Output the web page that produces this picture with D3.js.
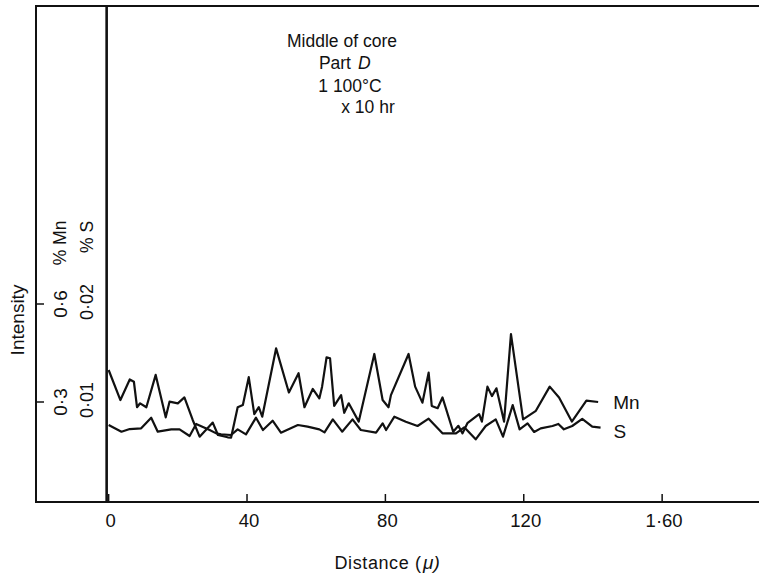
<!DOCTYPE html>
<html lang="en">
<head>
  <meta charset="UTF-8" />
  <title>Middle of core, Part D</title>
  <script src="https://d3js.org/d3.v7.min.js"></script>
  <style>
    body {
      margin: 0;
      background: #fff;
    }
    svg text {
      font-family: "Liberation Sans", Arial, sans-serif;
      fill: #111;
    }
  </style>
</head>
<body>
  <svg id="chart" width="759" height="583"></svg>

  <script>
    // Distance (μ) and intensity readings
    const mnDistance = [0, 3.4, 6.1, 7.3, 8.2, 9.1, 10.9, 13.6, 16.5, 17.6, 20, 21.9, 24.3, 26.3, 30.1, 31.6, 34.4, 35.4,
      37.3, 38.8, 40.5, 42.1, 43.4, 44.4, 48.4, 52.1, 54.9, 56.6, 59, 60.9, 61.7, 63, 64, 65.2, 67.2, 68.1, 69.4, 72.3,
      76.8, 79.2, 80.9, 81.6, 86.7, 88.6, 90.7, 92.5, 93.4, 95.1, 96.5, 99.6, 101.1, 102.3, 103.7, 107.1, 107.9, 109.5,
      110.8, 112.1, 114.3, 116.3, 119.8, 123.5, 127.5, 130.2, 133.9, 138.1, 141.5];
    const mnValues = [0.398, 0.306, 0.369, 0.362, 0.284, 0.296, 0.284, 0.383, 0.253, 0.301, 0.296, 0.314, 0.245, 0.194,
      0.237, 0.199, 0.192, 0.191, 0.284, 0.291, 0.376, 0.263, 0.284, 0.255, 0.464, 0.329, 0.388, 0.284, 0.34, 0.311,
      0.347, 0.437, 0.434, 0.288, 0.321, 0.267, 0.296, 0.24, 0.447, 0.306, 0.284, 0.321, 0.447, 0.347, 0.298, 0.39,
      0.288, 0.281, 0.314, 0.209, 0.227, 0.204, 0.235, 0.263, 0.24, 0.347, 0.318, 0.342, 0.24, 0.508, 0.247, 0.273,
      0.347, 0.314, 0.24, 0.304, 0.3];

    const sDistance = [0, 3.7, 6.1, 9.4, 12.3, 14.2, 18.1, 20.5, 23.4, 25.3, 29.2, 31.1, 32.5, 35.4, 37.3, 39.7, 42.6,
      44.6, 47.4, 49.8, 54.7, 57.5, 60.9, 62.4, 64.8, 67.5, 70.5, 72.9, 77.3, 79.2, 80.2, 82.6, 85.9, 89.3, 92.5, 96.5,
      100.4, 102.8, 106.1, 109, 111.9, 114, 116.8, 118.8, 121.1, 123, 124.9, 128.3, 130, 131.6, 134, 136.9, 139.8, 142.2];
    const sValues = [0.00765, 0.00697, 0.00724, 0.00731, 0.0084, 0.00697, 0.00721, 0.00721, 0.00653, 0.00776, 0.00714,
      0.0068, 0.0067, 0.00663, 0.00721, 0.0067, 0.0084, 0.00714, 0.00809, 0.00687, 0.00765, 0.00748, 0.00721, 0.0069,
      0.00823, 0.00697, 0.00823, 0.00714, 0.00687, 0.00782, 0.00714, 0.0085, 0.00799, 0.00755, 0.0083, 0.0068, 0.0068,
      0.00742, 0.00619, 0.00755, 0.00823, 0.00646, 0.00969, 0.00721, 0.00782, 0.00694, 0.00731, 0.00755, 0.00776,
      0.00721, 0.00755, 0.00827, 0.00748, 0.00738];

    const xTicks = [0, 40, 80, 120, 160];
    const xTickLabels = ["0", "40", "80", "120", "1·60"];
    const mnTicks = [0.3, 0.6];
    const mnTickLabels = ["0·3", "0·6"];
    const sTicks = [0.01, 0.02];
    const sTickLabels = ["0·01", "0·02"];
    const titleLines = ["Middle of core", "Part", "D", "1 100°C", "x 10 hr"];

    const svg = d3.select("#chart");

    const x = d3.scaleLinear().domain([-21, 188]).range([36, 759]);
    const yMn = d3.scaleLinear().domain([0, 0.6]).range([500, 304]);
    const yS = d3.scaleLinear().domain([0, 0.02]).range([500, 304]);

    const yTop = 6, yBottom = 502;

    // frame: left edge, top edge, bottom axis
    svg.append("path")
      .attr("d", `M${x.range()[1]},${yTop} H${x(-21)} V${yBottom} H${x.range()[1]}`)
      .attr("fill", "none")
      .attr("stroke", "#111")
      .attr("stroke-width", 2);

    // zero line
    svg.append("line")
      .attr("x1", x(0) - 2).attr("x2", x(0) - 2)
      .attr("y1", yTop).attr("y2", yBottom)
      .attr("stroke", "#111")
      .attr("stroke-width", 2.6);

    // x ticks + labels
    svg.selectAll(".xtick")
      .data(xTicks)
      .join("line")
      .attr("x1", d => x(d)).attr("x2", d => x(d))
      .attr("y1", yBottom).attr("y2", yBottom - 8)
      .attr("stroke", "#111")
      .attr("stroke-width", 1.5);

    svg.selectAll(".xlabel")
      .data(xTicks)
      .join("text")
      .attr("x", d => x(d) + 2)
      .attr("y", 527)
      .attr("text-anchor", "middle")
      .attr("font-size", 18.5)
      .text((d, i) => xTickLabels[i]);

    svg.append("text")
      .attr("x", 378).attr("y", 569)
      .attr("text-anchor", "middle")
      .attr("font-size", 18)
      .attr("letter-spacing", 0.6)
      .text("Distance  (");
    svg.append("text")
      .attr("x", 423).attr("y", 569)
      .attr("font-size", 19)
      .attr("font-style", "italic")
      .text("μ)");

    // y ticks on left edge
    svg.selectAll(".ytick")
      .data(mnTicks)
      .join("line")
      .attr("x1", x(-21)).attr("x2", x(-21) + 8)
      .attr("y1", d => yMn(d)).attr("y2", d => yMn(d))
      .attr("stroke", "#111")
      .attr("stroke-width", 1.5);

    const rotLabel = (px, py, txt, size) => svg.append("text")
      .attr("transform", `translate(${px},${py}) rotate(-90)`)
      .attr("text-anchor", "middle")
      .attr("dominant-baseline", "central")
      .attr("font-size", size)
      .text(txt);

    mnTicks.forEach((t, i) => rotLabel(60, yMn(t), mnTickLabels[i], 19));
    sTicks.forEach((t, i) => rotLabel(87, yS(t) - 2, sTickLabels[i], 18));
    rotLabel(60, 243, "% Mn", 17.5);
    rotLabel(87, 237, "% S", 17.5);
    rotLabel(17, 320, "Intensity", 19);

    // traces
    const mnLine = d3.line().x(i => x(mnDistance[i])).y(i => yMn(mnValues[i]));
    const sLine = d3.line().x(i => x(sDistance[i])).y(i => yS(sValues[i]));

    svg.append("path")
      .attr("d", mnLine(d3.range(mnValues.length)))
      .attr("fill", "none")
      .attr("stroke", "#111")
      .attr("stroke-width", 2.2)
      .attr("stroke-linejoin", "round");

    svg.append("path")
      .attr("d", sLine(d3.range(sValues.length)))
      .attr("fill", "none")
      .attr("stroke", "#111")
      .attr("stroke-width", 2.2)
      .attr("stroke-linejoin", "round");

    const lastMn = mnValues.length - 1, lastS = sValues.length - 1;
    svg.append("text")
      .attr("x", x(mnDistance[lastMn]) + 15)
      .attr("y", yMn(mnValues[lastMn]) + 7)
      .attr("font-size", 19)
      .text("Mn");
    svg.append("text")
      .attr("x", x(sDistance[lastS]) + 13)
      .attr("y", yS(sValues[lastS]) + 10)
      .attr("font-size", 19)
      .text("S");

    // annotation block
    const note = svg.append("g").attr("font-size", 17.5);
    note.append("text").attr("x", 342).attr("y", 47).attr("text-anchor", "middle").text(titleLines[0]);
    note.append("text").attr("x", 351).attr("y", 69).attr("text-anchor", "end").text(titleLines[1]);
    note.append("text").attr("x", 358).attr("y", 69).attr("font-style", "italic").text(titleLines[2]);
    note.append("text").attr("x", 350).attr("y", 92).attr("text-anchor", "middle").text(titleLines[3]);
    note.append("text").attr("x", 368).attr("y", 113).attr("text-anchor", "middle").text(titleLines[4]);
  </script>
</body>
</html>
